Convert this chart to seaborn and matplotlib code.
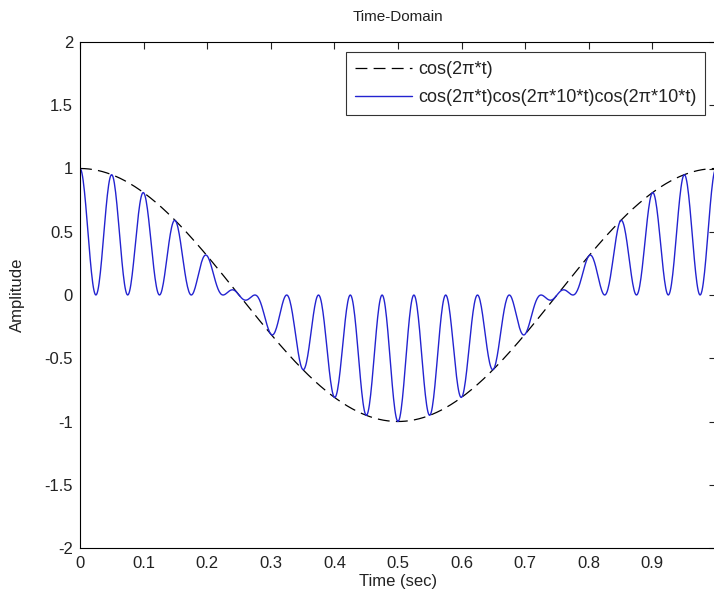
import numpy as np
import pandas as pd
import matplotlib
matplotlib.use("Agg")
import matplotlib.pyplot as plt
import seaborn as sns

# signal parameters
f_base = 1.0     # cos(2*pi*t)
f_mod = 10.0     # cos(2*pi*10*t), applied twice
t_start, t_stop, n_samples = 0.0, 1.0, 1001

labels = ["cos(2\u03c0*t)", "cos(2\u03c0*t)cos(2\u03c0*10*t)cos(2\u03c0*10*t)"]
xticks = [0, 0.1, 0.2, 0.3, 0.4, 0.5, 0.6, 0.7, 0.8, 0.9]
yticks = [-2, -1.5, -1, -0.5, 0, 0.5, 1, 1.5, 2]

t = np.linspace(t_start, t_stop, n_samples)
base = np.cos(2 * np.pi * f_base * t)
modulated = base * np.cos(2 * np.pi * f_mod * t) * np.cos(2 * np.pi * f_mod * t)
df = pd.DataFrame({"t": t, "base": base, "mod": modulated})

sns.set_style("white")
plt.rcParams["font.family"] = ["Liberation Sans", "DejaVu Sans"]

fig = plt.figure(figsize=(7.14, 5.96), dpi=100)
ax = fig.add_axes([80 / 714, 48 / 596, 636 / 714, 506 / 596])

sns.lineplot(data=df, x="t", y="base", ax=ax, color="black", linestyle=(0, (9.5, 5)),
             linewidth=0.9, label=labels[0])
sns.lineplot(data=df, x="t", y="mod", ax=ax, color="#2323d0", linewidth=1.0,
             label=labels[1])

ax.set_xlim(0, 1)
ax.set_ylim(-2, 2)
ax.set_xticks(xticks)
ax.set_xticklabels([f"{v:g}" for v in xticks])
ax.set_yticks(yticks)
ax.set_yticklabels([f"{v:g}" for v in yticks])
ax.tick_params(direction="in", length=5, width=0.8, top=True, right=True,
               labelsize=12, colors="#222222")
ax.tick_params(axis="x", pad=6)
ax.tick_params(axis="y", pad=5)
for s in ax.spines.values():
    s.set_color("black")
    s.set_linewidth(0.8)

ax.set_xlabel("Time (sec)", fontsize=12, labelpad=2, color="#222222")
ax.set_ylabel("Amplitude", fontsize=12, labelpad=14, color="#222222")
ax.set_title("Time-Domain", fontsize=11, pad=15, color="#222222")

leg = ax.legend(loc="upper right", bbox_to_anchor=(0.983, 0.980), borderaxespad=0,
                fontsize=13, handlelength=3.2, handletextpad=0.3,
                frameon=True, fancybox=False, borderpad=0.5, labelspacing=0.6)
leg.get_frame().set_edgecolor("black")
leg.get_frame().set_linewidth(0.8)
for txt in leg.get_texts():
    txt.set_color("#222222")

fig.savefig("out.png", dpi=100)
